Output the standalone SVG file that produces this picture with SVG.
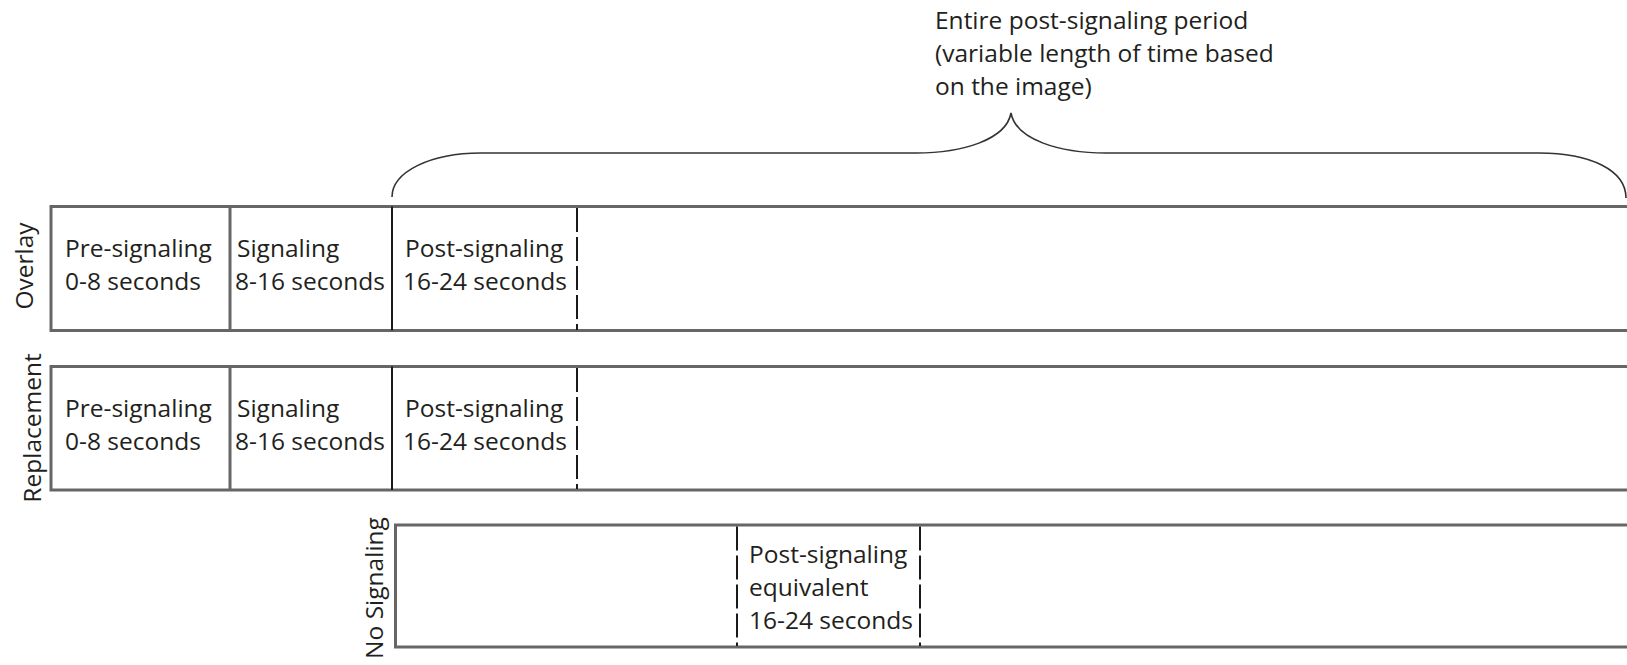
<svg xmlns="http://www.w3.org/2000/svg" width="1627" height="665" viewBox="0 0 1627 665">
  <style>
    .box { fill: #ffffff; stroke: #666666; stroke-width: 3; }
    .div-gray { stroke: #666666; stroke-width: 3; }
    .div-black { stroke: #1a1a1a; stroke-width: 2; }
    .dash { stroke: #1a1a1a; stroke-width: 2; stroke-dasharray: 24 5; }
    .brace { fill: none; stroke: #333333; stroke-width: 1.6; }
    text { font-family: "Open Sans", "Noto Sans", "Liberation Sans", sans-serif; font-size: 24.5px; fill: #231f20; }
    .side { text-anchor: middle; }
  </style>
  <rect width="1627" height="665" fill="#ffffff"/>

  <g id="brace-annotation">
    <path class="brace" d="M392,197 C392,172 430,153 481,153 L916,153 C962,153 1006,140 1011,113 C1016,140 1060,153 1106,153 L1539,153 C1590,153 1626,170 1626,198"/>
    <text x="935" y="29">Entire post-signaling period</text>
    <text x="935" y="62">(variable length of time based</text>
    <text x="935" y="95">on the image)</text>
  </g>

  <g id="overlay">
    <rect class="box" x="51" y="206.5" width="1620" height="124"/>
    <line class="div-gray" x1="230" y1="206.5" x2="230" y2="330.5"/>
    <line class="div-black" x1="392" y1="206.5" x2="392" y2="330.5"/>
    <line class="dash" x1="577" y1="208" x2="577" y2="330"/>
    <text class="side" transform="translate(33,266) rotate(-90)">Overlay</text>
    <text x="65" y="257">Pre-signaling</text>
    <text x="65" y="290">0-8 seconds</text>
    <text x="237" y="257">Signaling</text>
    <text x="235" y="290">8-16 seconds</text>
    <text x="405" y="257">Post-signaling</text>
    <text x="403" y="290">16-24 seconds</text>
  </g>

  <g id="replacement">
    <rect class="box" x="51" y="366.5" width="1620" height="123.5"/>
    <line class="div-gray" x1="230" y1="366.5" x2="230" y2="490"/>
    <line class="div-black" x1="392" y1="366.5" x2="392" y2="490"/>
    <line class="dash" x1="577" y1="368" x2="577" y2="489"/>
    <text class="side" transform="translate(41,428) rotate(-90)">Replacement</text>
    <text x="65" y="417">Pre-signaling</text>
    <text x="65" y="450">0-8 seconds</text>
    <text x="237" y="417">Signaling</text>
    <text x="235" y="450">8-16 seconds</text>
    <text x="405" y="417">Post-signaling</text>
    <text x="403" y="450">16-24 seconds</text>
  </g>

  <g id="no-signaling">
    <rect class="box" x="395.5" y="525" width="1280" height="122"/>
    <line class="dash" x1="737" y1="526.5" x2="737" y2="646"/>
    <line class="dash" x1="920" y1="526.5" x2="920" y2="646"/>
    <text class="side" transform="translate(383,588) rotate(-90)">No Signaling</text>
    <text x="749" y="563">Post-signaling</text>
    <text x="749" y="596">equivalent</text>
    <text x="749" y="629">16-24 seconds</text>
  </g>

  <g id="connectors"></g>
</svg>
